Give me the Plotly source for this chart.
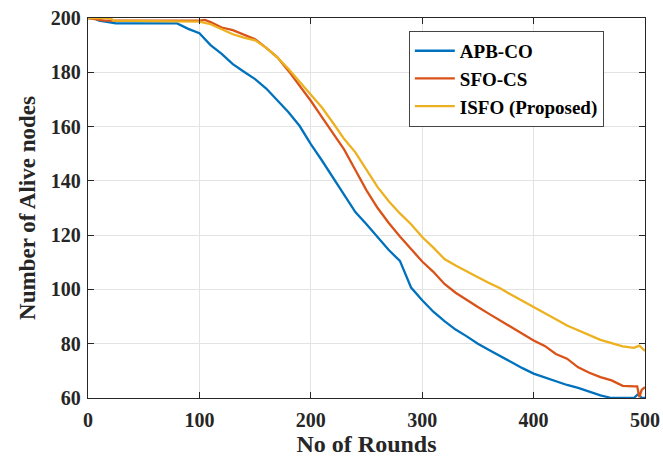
import plotly.graph_objects as go

# Rounds and alive-node counts for each protocol
apb_rounds = [0, 5, 10, 20, 25, 80, 85, 90, 100, 110, 120, 130, 140, 150, 160, 170, 180, 190,
              200, 210, 220, 230, 240, 250, 260, 270, 280, 290, 300, 310, 320, 330, 340, 350,
              360, 370, 380, 390, 400, 410, 420, 430, 440, 450, 460, 470, 480, 490, 494, 497, 500]
apb_alive = [200, 200, 199, 198.5, 198, 198, 197, 196, 194.4, 190, 186.8, 183, 180.2, 177.5, 174,
             169.5, 165.3, 160.2, 153.5, 147.5, 141, 134.5, 128.5, 124, 119.3, 114.5, 110.5,
             100.7, 96, 91.8, 88.3, 85.2, 82.7, 80, 77.7, 75.5, 73, 71, 69, 67.6, 66, 64.8, 63.7,
             62.3, 61, 60, 60, 60, 61.5, 60, 60]

sfo_rounds = [0, 10, 15, 100, 105, 110, 120, 130, 140, 150, 160, 170, 180, 190, 200, 210, 220,
              230, 240, 250, 260, 270, 280, 290, 300, 310, 320, 330, 340, 350, 360, 370, 380,
              390, 400, 410, 420, 430, 440, 450, 460, 470, 480, 490, 493, 495, 497, 500]
sfo_alive = [200, 199.5, 199, 199, 199.3, 198.5, 196.5, 195.5, 193.8, 192.2, 189, 185.5, 180.5,
             175, 169.5, 163.5, 157.5, 151.5, 144, 136.5, 130, 124.5, 119.5, 115, 110.3, 106.5,
             102, 98.8, 96, 93.5, 91, 88.5, 86, 83.5, 81.2, 79.2, 76.2, 74.5, 71.3, 69.3, 67.7,
             66.5, 64.5, 64.3, 64.3, 60.3, 63, 64]

isfo_rounds = [0, 20, 23, 100, 110, 120, 130, 140, 150, 160, 170, 180, 190, 200, 210, 220, 230,
               240, 250, 260, 270, 280, 290, 300, 310, 320, 330, 340, 350, 360, 370, 380, 390,
               400, 410, 420, 430, 440, 450, 460, 470, 480, 490, 495, 500]
isfo_alive = [200, 200, 199, 198.7, 197.7, 195.8, 194, 192.8, 191.8, 189, 185.5, 181.2, 176.5,
              171.5, 167, 161.3, 155.4, 150.5, 144.1, 137.7, 132.5, 128, 124, 119.3, 115.4,
              111.2, 108.8, 106.5, 104.5, 102.4, 100.4, 98, 95.8, 93.5, 91.5, 89, 86.7, 85,
              83.3, 81.4, 80.2, 79, 78.5, 79.3, 77.3]

series = [
    ("APB-CO", apb_rounds, apb_alive, "#0072BD"),
    ("SFO-CS", sfo_rounds, sfo_alive, "#D95319"),
    ("ISFO (Proposed)", isfo_rounds, isfo_alive, "#EDB120"),
]

x_ticks = [0, 100, 200, 300, 400, 500]
y_ticks = [60, 80, 100, 120, 140, 160, 180, 200]

FONT = "Liberation Serif"

fig = go.Figure()
for name, xs, ys, color in series:
    fig.add_trace(go.Scatter(x=xs, y=ys, mode="lines", name=name,
                             line=dict(color=color, width=2.3)))

axis_common = dict(
    showline=True, linecolor="#262626", linewidth=1.3, mirror="allticks",
    ticks="inside", ticklen=6, tickwidth=1, tickcolor="#262626",
    showgrid=True, gridcolor="#e3e3e3", gridwidth=1, zeroline=False,
    automargin=False,
    tickfont=dict(family=FONT, size=20, color="#262626"),
)

fig.update_xaxes(range=[0, 500], tickvals=x_ticks,
                 title=dict(text="<b>No of Rounds</b>", standoff=9,
                            font=dict(family=FONT, size=24, color="#262626")),
                 ticklabelstandoff=4, **axis_common)
fig.update_yaxes(range=[60, 200], tickvals=y_ticks,
                 title=dict(text="<b>Number of Alive nodes</b>", standoff=8,
                            font=dict(family=FONT, size=23, color="#262626")),
                 ticklabelstandoff=2, **axis_common)

fig.update_layout(
    width=663, height=457,
    margin=dict(l=88, r=18, t=18, b=59),
    paper_bgcolor="white", plot_bgcolor="white",
    font=dict(family=FONT, size=20, color="#262626", weight="bold"),
    showlegend=True,
    legend=dict(x=0.576, y=0.966, xanchor="left", yanchor="top",
                bgcolor="white", bordercolor="#444444", borderwidth=1,
                font=dict(family=FONT, size=19, color="black", weight="bold"),
                tracegroupgap=0, itemwidth=40),
)

fig.write_html("out.html")
